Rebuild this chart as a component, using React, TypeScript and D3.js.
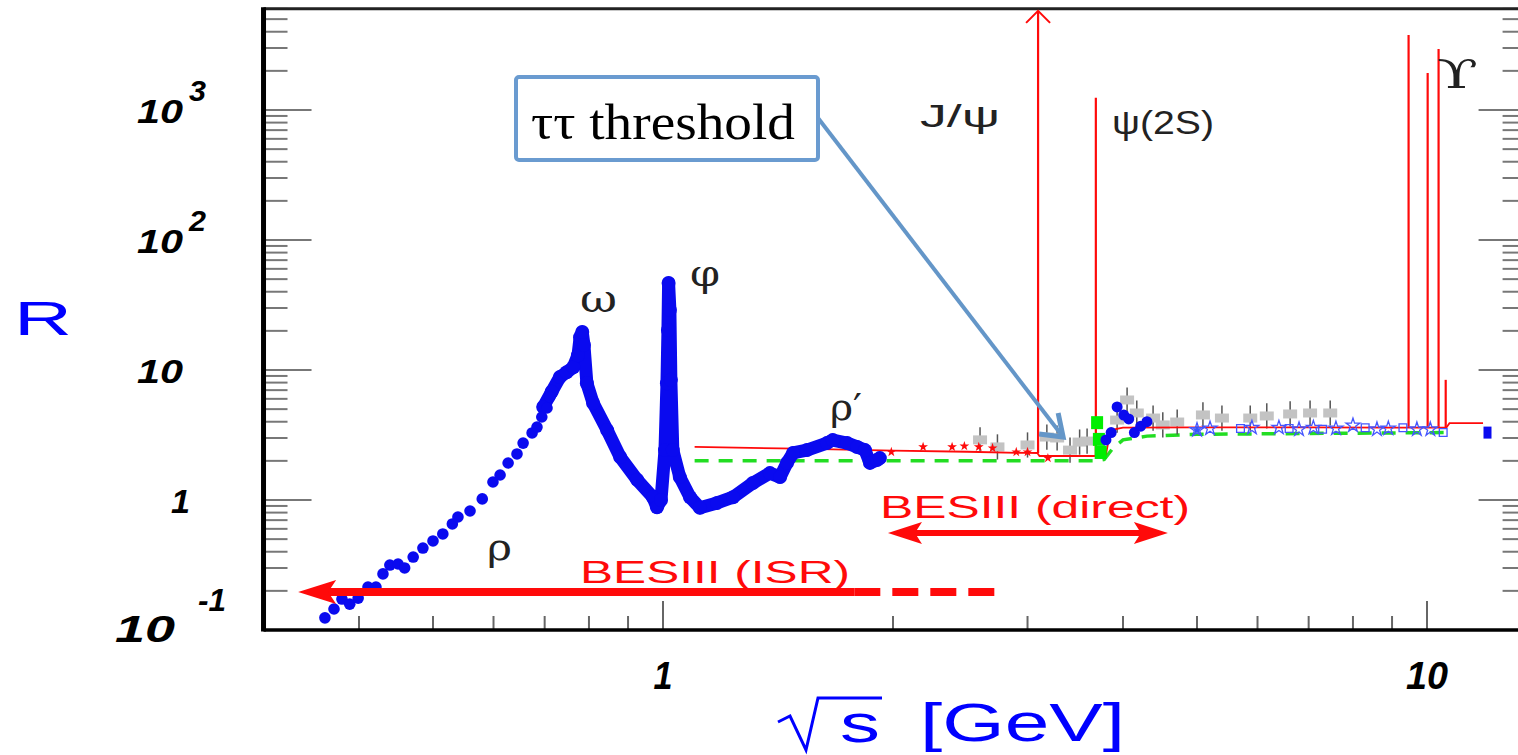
import React from "react";
import * as d3 from "d3";

// blue e+e- -> hadrons points (sqrt s in GeV, R)
const blueX = [0.361, 0.371, 0.380, 0.389, 0.399, 0.411, 0.421, 0.430, 0.439, 0.450, 0.459, 0.471, 0.485, 0.500, 0.515, 0.530, 0.539, 0.559, 0.580, 0.599, 0.612, 0.627, 0.644, 0.656, 0.674, 0.684, 0.694, 0.705, 0.711];
const blueR = [0.124, 0.145, 0.173, 0.158, 0.176, 0.214, 0.214, 0.270, 0.316, 0.322, 0.300, 0.364, 0.427, 0.484, 0.548, 0.654, 0.740, 0.823, 1.02, 1.375, 1.557, 1.926, 2.26, 2.74, 3.28, 3.64, 4.35, 5.10, 6.20];

// dense resonance region omega / phi / rho'
const denseX = [0.697, 0.715, 0.733, 0.748, 0.763, 0.774, 0.779, 0.784, 0.788, 0.795, 0.810, 0.845, 0.879, 0.925, 0.970, 0.982, 0.994, 1.006, 1.012, 1.015, 1.017, 1.021, 1.024, 1.030, 1.052, 1.085, 1.118, 1.177, 1.235, 1.311, 1.380, 1.423, 1.453, 1.480, 1.543, 1.639, 1.668, 1.742, 1.795, 1.838, 1.866, 1.906, 1.922];
const denseR = [5.19, 6.8, 8.83, 9.6, 10.5, 13.0, 17.9, 19.6, 15.6, 7.9, 5.57, 3.45, 2.14, 1.43, 1.05, 0.88, 1.0, 2.42, 7.9, 20.3, 46.7, 29, 8.4, 2.42, 1.50, 1.05, 0.87, 0.95, 1.05, 1.35, 1.61, 1.50, 1.93, 2.30, 2.42, 2.74, 2.89, 2.74, 2.56, 2.42, 1.93, 2.03, 2.10];

// blue points above charm threshold
const blueHiX = [3.80, 3.86, 3.93, 4.01, 4.07, 4.14, 4.22, 4.30];
const blueHiR = [2.9, 3.3, 5.2, 4.5, 4.2, 3.3, 3.7, 4.0];
const blueOpenX = [5.0, 5.2, 5.7, 5.9, 6.4, 6.6, 6.8, 7.1, 7.3, 7.6, 8.0, 8.3, 8.6, 8.9, 9.3, 9.7, 10.1, 10.5];
const blueOpenR = [3.46, 3.55, 3.55, 3.6, 3.6, 3.55, 3.5, 3.6, 3.5, 3.55, 3.75, 3.6, 3.5, 3.55, 3.6, 3.5, 3.5, 3.3];
const blueEnd = [12.0, 3.3];

// grey points with error bars
const greyX = [2.60, 2.74, 3.00, 3.18, 3.28, 3.41, 3.51, 3.59, 3.93, 4.05, 4.17, 4.38, 4.51, 4.71, 5.09, 5.39, 5.87, 6.17, 6.62, 7.03, 7.47];
const greyR = [2.9, 2.56, 2.65, 3.05, 3.0, 2.42, 2.79, 2.84, 4.12, 5.88, 4.67, 4.27, 3.78, 3.98, 4.51, 4.27, 4.27, 4.43, 4.59, 4.67, 4.67];

// green points near psi(2S)
const greenPtX = [3.70, 3.72, 3.74];
const greenPtR = [3.9, 2.9, 2.3];

// red stars
const starX = [1.99, 2.19, 2.39, 2.48, 2.59, 2.70, 2.90, 3.00, 3.19, 5.0];
const starR = [2.34, 2.56, 2.56, 2.60, 2.56, 2.51, 2.34, 2.34, 2.10, 3.46];

// red prediction (continuum)
const redX = [1.10, 1.5, 2.0, 2.5, 3.0, 3.09, 3.11, 3.3, 3.6, 3.68, 3.70, 3.76, 3.80, 3.84, 3.90, 4.0, 5.0, 7.0, 9.0, 9.4, 9.5, 10.0, 10.4, 10.6, 10.7, 11.0, 11.84];
const redR = [2.56, 2.48, 2.40, 2.35, 2.30, 2.30, 2.18, 2.18, 2.18, 2.18, 2.2, 2.2, 2.25, 3.1, 3.5, 3.6, 3.62, 3.62, 3.6, 3.6, 3.6, 3.6, 3.6, 3.6, 3.9, 3.9, 3.9];

// narrow resonances
const resX = [3.097, 3.686, 9.46, 10.02, 10.355, 10.58];
const resTop = [6000, 1240, 3777, 1926, 2946, 8.4];
const resBase = [2.3, 2.2, 3.6, 3.6, 3.6, 3.6];

// green dashed (pQCD)
const greenX = [1.10, 3.70, 3.78, 3.88, 4.0, 4.3, 5.0, 7.0, 10.6];
const greenR = [2.0, 2.0, 2.05, 2.5, 2.9, 3.1, 3.2, 3.25, 3.3];

const yTicks = [0.1, 1, 10, 100, 1000];
const yBase = ["10", "1", "10", "10", "10"];
const yExp = ["-1", "", "", "2", "3"];
const xTicks = [1, 10];
const xLabels = ["1", "10"];

const W = 1518, H = 755;
const x = d3.scaleLog().domain([1, 10]).range([663, 1427]);
const y = d3.scaleLog().domain([1, 10]).range([500, 370]);
const xMin = 0.3, xMax = 13.5, yMin = 0.1, yMax = 6000;

const BOLD = "'Liberation Sans', Arial, sans-serif";
const BLUE = "#0a0aef";
const RED = "#ff0a0a";

export default function App() {
    const left = x(xMin), right = x(xMax), top = y(yMax), bottom = y(yMin);

    const yMinor: number[] = [];
    for (let d = -1; d <= 3; d++) for (let k = 1; k <= 9; k++) {
        const v = k * Math.pow(10, d);
        if (v >= yMin && v <= yMax) yMinor.push(v);
    }
    const xMinor: number[] = [];
    for (let d = -1; d <= 1; d++) for (let k = 1; k <= 9; k++) {
        const v = k * Math.pow(10, d);
        if (v > xMin && v < xMax) xMinor.push(v);
    }

    const line = d3.line<[number, number]>().x(d => x(d[0])).y(d => y(d[1]));
    const dense = line(denseX.map((v, i) => [v, denseR[i]]));
    const red = line(redX.map((v, i) => [v, redR[i]]));
    const green = line(greenX.map((v, i) => [v, greenR[i]]));

    // annotation anchors
    const isrY = y(0.196), isrL = x(0.333), isrS = x(1.78), isrE = x(2.76);
    const dirY = y(0.557), dirL = x(1.97), dirR = x(4.58);
    const tip: [number, number] = [x(3.34), y(3.05)];

    return (
        <svg width={W} height={H} style={{ position: "absolute", left: 0, top: 0, background: "#fff" }}>
            {/* ticks */}
            {yMinor.map((v, i) => {
                const major = Math.abs(Math.log10(v) - Math.round(Math.log10(v))) < 1e-9;
                const len = major ? 48 : 24;
                return (
                    <g key={"yt" + i} stroke="#777" strokeWidth={2}>
                        <line x1={left} x2={left + len} y1={y(v)} y2={y(v)} />
                        <line x1={right} x2={right - len} y1={y(v)} y2={y(v)} />
                    </g>
                );
            })}
            {xMinor.map((v, i) => {
                const major = Math.abs(Math.log10(v) - Math.round(Math.log10(v))) < 1e-9;
                return <line key={"xt" + i} x1={x(v)} x2={x(v)} y1={bottom} y2={bottom - (major ? 29 : 14)} stroke="#666" strokeWidth={2} />;
            })}

            {/* frame */}
            <line x1={left} x2={right} y1={top} y2={top} stroke="#222" strokeWidth={3} />
            <line x1={left} x2={right} y1={bottom} y2={bottom} stroke="#000" strokeWidth={3.5} />
            <line x1={left} x2={left} y1={top - 1.5} y2={bottom + 1.5} stroke="#000" strokeWidth={5} />
            <line x1={right} x2={right} y1={top} y2={bottom} stroke="#000" strokeWidth={4} />

            {/* green dashed */}
            <path d={green || ""} fill="none" stroke="#22dd22" strokeWidth={3.5} strokeDasharray="14 10" />

            {/* grey */}
            {greyX.map((v, i) => (
                <g key={"g" + i}>
                    <line x1={x(v)} x2={x(v)} y1={y(greyR[i] * 1.25)} y2={y(greyR[i] / 1.25)} stroke="#555" strokeWidth={1.5} />
                    <rect x={x(v) - 7} y={y(greyR[i]) - 4.5} width={14} height={9} fill="#c3c3c3" />
                </g>
            ))}

            {/* red continuum + resonances */}
            <path d={red || ""} fill="none" stroke={RED} strokeWidth={1.8} />
            {resX.map((v, i) => (
                <line key={"r" + i} x1={x(v)} x2={x(v)} y1={y(resBase[i])} y2={i === 0 ? top + 2 : y(resTop[i])} stroke={RED} strokeWidth={2.2} />
            ))}
            <polyline points={`${x(resX[0]) - 12},${top + 14} ${x(resX[0])},${top + 2} ${x(resX[0]) + 12},${top + 14}`} fill="none" stroke={RED} strokeWidth={2} />

            {/* red stars */}
            {starX.map((v, i) => (
                <path key={"s" + i} d={d3.symbol(d3.symbolStar, 30)() || ""} transform={`translate(${x(v)},${y(starR[i])})`} fill={i === starX.length - 1 ? "#3355ff" : RED} />
            ))}

            {/* green points */}
            {greenPtX.map((v, i) => (
                <rect key={"gp" + i} x={x(v) - 6} y={y(greenPtR[i]) - 7} width={12} height={13} fill="#00ee00" />
            ))}

            {/* blue data */}
            <path d={dense || ""} fill="none" stroke={BLUE} strokeWidth={13} strokeLinejoin="round" strokeLinecap="round" />
            {denseX.map((v, i) => (
                <circle key={"d" + i} cx={x(v)} cy={y(denseR[i])} r={7} fill={BLUE} />
            ))}
            {blueX.map((v, i) => (
                <circle key={"b" + i} cx={x(v)} cy={y(blueR[i])} r={5.8} fill={BLUE} />
            ))}
            {blueHiX.map((v, i) => (
                <circle key={"bh" + i} cx={x(v)} cy={y(blueHiR[i])} r={5.5} fill={BLUE} />
            ))}
            {blueOpenX.map((v, i) => (
                <path key={"bo" + i} d={d3.symbol(i % 3 === 2 ? d3.symbolSquare : d3.symbolStar, 60)() || ""} transform={`translate(${x(v)},${y(blueOpenR[i])})`} fill="none" stroke="#4455ff" strokeWidth={1.3} />
            ))}
            <line x1={x(blueEnd[0])} x2={x(blueEnd[0])} y1={y(blueEnd[1] * 1.1)} y2={y(blueEnd[1] / 1.1)} stroke="#333" strokeWidth={1.5} />
            <rect x={x(blueEnd[0]) - 4} y={y(blueEnd[1]) - 6} width={8} height={12} fill={BLUE} />

            {/* particle labels */}
            <g fontFamily="'DejaVu Serif', serif" fill="#222">
                <text x={580} y={312} fontSize={40} textLength={37} lengthAdjust="spacingAndGlyphs">ω</text>
                <text x={690} y={286} fontSize={38} textLength={30} lengthAdjust="spacingAndGlyphs">φ</text>
                <text x={830} y={420} fontSize={38} textLength={32} lengthAdjust="spacingAndGlyphs">ρ′</text>
                <text x={487} y={560} fontSize={38} textLength={25} lengthAdjust="spacingAndGlyphs">ρ</text>
                <text x={1437} y={88} fontSize={40} textLength={41} lengthAdjust="spacingAndGlyphs">ϒ</text>
            </g>
            <g fontFamily={BOLD} fill="#222">
                <text x={920} y={127} fontSize={32} textLength={80} lengthAdjust="spacingAndGlyphs">J/ψ</text>
                <text x={1112} y={134} fontSize={34} textLength={102} lengthAdjust="spacingAndGlyphs">ψ(2S)</text>
            </g>

            {/* BESIII arrows */}
            <g fill={RED}>
                <text x={580} y={583} fontFamily={BOLD} fontSize={31} textLength={270} lengthAdjust="spacingAndGlyphs">BESIII (ISR)</text>
                <text x={880} y={518} fontFamily={BOLD} fontSize={31} textLength={310} lengthAdjust="spacingAndGlyphs">BESIII (direct)</text>
                <line x1={isrL + 20} x2={isrS} y1={isrY} y2={isrY} stroke={RED} strokeWidth={8} />
                <line x1={isrS} x2={isrE} y1={isrY} y2={isrY} stroke={RED} strokeWidth={8} strokeDasharray="26 12" />
                <polygon points={`${isrL},${isrY} ${isrL + 38},${isrY - 12} ${isrL + 30},${isrY} ${isrL + 38},${isrY + 12}`} />
                <line x1={dirL + 20} x2={dirR - 20} y1={dirY} y2={dirY} stroke={RED} strokeWidth={6} />
                <polygon points={`${dirL},${dirY} ${dirL + 34},${dirY - 11} ${dirL + 27},${dirY} ${dirL + 34},${dirY + 11}`} />
                <polygon points={`${dirR},${dirY} ${dirR - 34},${dirY - 11} ${dirR - 27},${dirY} ${dirR - 34},${dirY + 11}`} />
            </g>

            {/* tau threshold callout */}
            <line x1={818} y1={118} x2={tip[0]} y2={tip[1]} stroke="#6496c8" strokeWidth={4} />
            <polyline points={`${tip[0] - 24},${tip[1] - 3} ${tip[0]},${tip[1]} ${tip[0] - 5},${tip[1] - 24}`} fill="none" stroke="#6496c8" strokeWidth={5} />
            <rect x={516} y={77} width={302} height={83} rx={3} fill="#fff" stroke="#6a9bd0" strokeWidth={4} />
            <text x={531} y={139} fontFamily="'Liberation Serif', 'Times New Roman', serif" fontSize={50} textLength={264} lengthAdjust="spacingAndGlyphs" fill="#000">ττ threshold</text>

            {/* y tick labels */}
            <g fontFamily={BOLD} fontWeight="bold" fontStyle="italic" fill="#000">
                {yTicks.map((v, i) => {
                    if (yExp[i] === "-1") {
                        return (
                            <g key={"yl" + i}>
                                <text x={115} y={y(v) + 12} fontSize={36} textLength={60} lengthAdjust="spacingAndGlyphs">{yBase[i]}</text>
                                <text x={198} y={y(v) - 19} fontSize={32} textLength={28} lengthAdjust="spacingAndGlyphs">{yExp[i]}</text>
                            </g>
                        );
                    }
                    const w = yBase[i].length === 2 ? 46 : 19;
                    return (
                        <g key={"yl" + i}>
                            <text x={yBase[i].length === 2 ? 137 : 171} y={y(v) + 13} fontSize={34} textLength={w} lengthAdjust="spacingAndGlyphs">{yBase[i]}</text>
                            {yExp[i] && <text x={189} y={y(v) - 9} fontSize={30} textLength={17} lengthAdjust="spacingAndGlyphs">{yExp[i]}</text>}
                        </g>
                    );
                })}
                {xTicks.map((v, i) => (
                    <text key={"xl" + i} x={x(v)} y={689} textAnchor="middle" fontSize={38} textLength={xLabels[i].length === 2 ? 42 : 19} lengthAdjust="spacingAndGlyphs">{xLabels[i]}</text>
                ))}
            </g>

            {/* axis titles */}
            <text x={14} y={335} fontFamily={BOLD} fontSize={48} fill="#0000ff" textLength={58} lengthAdjust="spacingAndGlyphs">R</text>
            <g fill="#0000ff" fontFamily={BOLD}>
                <polyline points="778,722 790,716 806,750 818,698 882,698" fill="none" stroke="#0000ff" strokeWidth={3} />
                <text x={840} y={742} fontSize={54} textLength={40} lengthAdjust="spacingAndGlyphs">s</text>
                <text x={920} y={741} fontSize={54} textLength={205} lengthAdjust="spacingAndGlyphs">[GeV]</text>
            </g>
        </svg>
    );
}
